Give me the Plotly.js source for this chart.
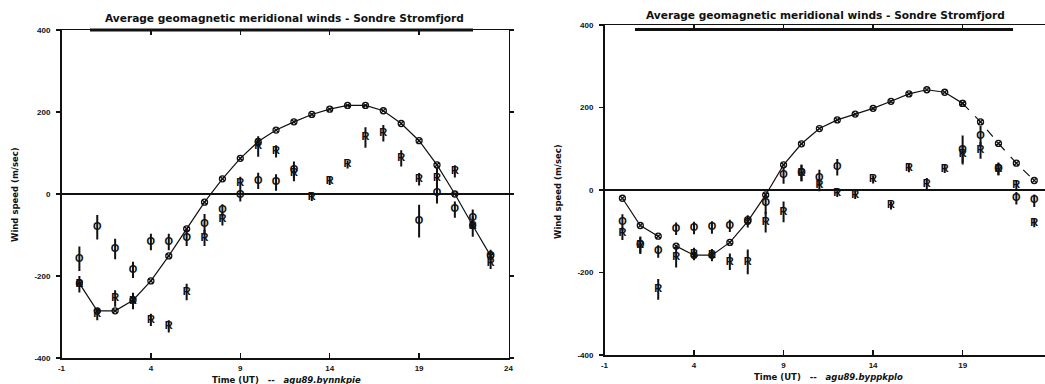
<!DOCTYPE html>
<html>
<head>
<meta charset="utf-8">
<script src="https://cdn.plot.ly/plotly-3.0.1.min.js"></script>
<style>html,body{margin:0;padding:0;overflow:hidden;background:#fff;}#chart{width:1045px;height:384px;}</style>
</head>
<body>
<div id="chart"></div>
<script>
// ---- data ----
var hours = [0,1,2,3,4,5,6,7,8,9,10,11,12,13,14,15,16,17,18,19,20,21,22,23];
var xTickVals = [-1,4,9,14,19,24];
var yTickVals = [-400,-200,0,200,400];

// left panel: agu89.bynnkpie
var leftModel = [-218,-285,-285,-259,-212,-151,-85,-20,37,87,128,156,176,194,207,216,216,203,172,130,71,0,-77,-151];
var leftO     = [-158,-81,-134,-185,-117,-117,-107,-74,-40,-3,32,28,59,null,null,null,null,null,null,-66,2,-38,-58,-151];
var leftOErr  = [30,30,25,20,20,20,20,25,15,15,20,20,20,null,null,null,null,null,null,40,25,20,20,15];
var leftR     = [-220,-293,-255,-261,-307,-323,-239,-107,-62,27,116,104,51,-7,32,72,138,148,87,36,39,55,-79,-168];
var leftRErr  = [20,15,20,20,15,15,20,20,15,15,25,15,20,10,10,10,25,20,20,15,25,15,25,15];

// right panel: agu89.byppkplo
var rightModel = [-20,-86,-112,-136,-158,-158,-127,-76,-12,61,112,149,170,184,198,215,233,243,237,210,165,113,65,23];
var rightO     = [-79,-133,-149,-94,-92,-91,-87,-76,-33,35,41,29,55,null,null,null,null,null,null,97,130,51,-20,-26];
var rightOErr  = [20,20,15,15,15,15,15,15,25,20,20,20,20,null,null,null,null,null,null,35,25,15,15,15];
var rightR     = [-106,-135,-241,-163,-155,-158,-174,-174,-78,-53,41,12,-7,-12,26,-37,53,14,51,86,96,51,12,-80];
var rightRErr  = [15,20,25,25,15,15,20,30,25,25,20,15,10,10,10,10,10,15,10,20,20,15,10,10];

var titleText = 'Average geomagnetic meridional winds - Sondre Stromfjord';
var yTitle = 'Wind speed (m/sec)';
var leftXTitle = 'Time (UT) &nbsp; -- &nbsp; <i>agu89.bynnkpie</i>';
var rightXTitle = 'Time (UT) &nbsp; -- &nbsp; <i>agu89.byppkplo</i>';

// ---- traces ----
var markFont = {family: 'Liberation Sans Narrow, Liberation Sans, sans-serif', size: 11, color: '#111'};
function letterTrace(x, y, err, letter, xa, ya) {
  return {
    x: x, y: y, xaxis: xa, yaxis: ya, mode: 'text', text: y.map(function(){return '<b>' + letter + '</b>';}),
    textposition: 'middle center', textfont: markFont, cliponaxis: false, showlegend: false, hoverinfo: 'x+y',
    error_y: {type: 'data', array: err, visible: true, color: '#111', thickness: 2, width: 0}
  };
}
function modelTrace(x, y, xa, ya, dash) {
  return {
    x: x, y: y, xaxis: xa, yaxis: ya, mode: 'lines+markers', showlegend: false,
    line: {color: '#111', width: 1.2, dash: dash || 'solid'},
    marker: {symbol: 'circle-x-open', size: 6, color: '#111', line: {color: '#111', width: 1.3}}
  };
}

var traces = [
  modelTrace(hours, leftModel, 'x', 'y'),
  letterTrace(hours, leftO, leftOErr, 'O', 'x', 'y'),
  letterTrace(hours, leftR, leftRErr, 'R', 'x', 'y'),
  modelTrace(hours.slice(0,3), rightModel.slice(0,3), 'x2', 'y2'),
  modelTrace(hours.slice(3,20), rightModel.slice(3,20), 'x2', 'y2'),
  modelTrace(hours.slice(19), rightModel.slice(19), 'x2', 'y2', 'dash'),
  letterTrace(hours, rightO, rightOErr, 'O', 'x2', 'y2'),
  letterTrace(hours, rightR, rightRErr, 'R', 'x2', 'y2')
];

var tickFont = {family: 'Liberation Sans, Arial, sans-serif', size: 8, color: '#111', weight: 'bold'};
function xAxis(domain, range, anchor, showRightTickLabels) {
  return {
    domain: domain, range: range, anchor: anchor, tickmode: 'array', tickvals: xTickVals,
    ticktext: xTickVals.map(String), ticks: 'inside', ticklen: 5, tickwidth: 1.3, tickcolor: '#111',
    showline: true, linewidth: 1.5, linecolor: '#111', mirror: 'ticks', showgrid: false, zeroline: false,
    tickfont: tickFont, ticklabelstandoff: 2
  };
}
function yAxis(domain, anchor, mirror) {
  return {
    domain: domain, range: [-400, 400], anchor: anchor, tickmode: 'array', tickvals: yTickVals,
    ticktext: yTickVals.map(String), ticks: 'outside', ticklen: 4, tickwidth: 1.3, tickcolor: '#111',
    showline: true, linewidth: 1.5, linecolor: '#111', mirror: mirror, showgrid: false,
    zeroline: true, zerolinecolor: '#111', zerolinewidth: 1.5, tickfont: tickFont, ticklabelstandoff: 4
  };
}

var titleFont = {family: 'DejaVu Sans, sans-serif', size: 10.6, color: '#111', weight: 'bold'};
var labFont = {family: 'DejaVu Sans, sans-serif', size: 8.5, color: '#111', weight: 'bold'};

var layout = {
  width: 1045, height: 384, margin: {l: 0, r: 0, t: 0, b: 0},
  paper_bgcolor: '#fff', plot_bgcolor: '#fff', showlegend: false,
  xaxis: xAxis([61.5/1045, 508.5/1045], [-1, 24], 'y'),
  yaxis: yAxis([26/384, 354/384], 'x', 'ticks'),
  xaxis2: xAxis([604.5/1045, 1], [-1, 23.6], 'y2'),
  yaxis2: yAxis([29/384, 359/384], 'x2', false),
  annotations: [
    {xref: 'paper', yref: 'paper', x: 284/1045, y: 1 - 18/384, text: titleText, showarrow: false, font: titleFont, xanchor: 'center', yanchor: 'middle'},
    {xref: 'paper', yref: 'paper', x: 825/1045, y: 1 - 15/384, text: titleText, showarrow: false, font: titleFont, xanchor: 'center', yanchor: 'middle'},
    {xref: 'paper', yref: 'paper', x: 286/1045, y: 1 - 380/384, text: leftXTitle, showarrow: false, font: labFont, xanchor: 'center', yanchor: 'middle'},
    {xref: 'paper', yref: 'paper', x: 828/1045, y: 1 - 377/384, text: rightXTitle, showarrow: false, font: labFont, xanchor: 'center', yanchor: 'middle'},
    {xref: 'paper', yref: 'paper', x: 15/1045, y: 1 - 195/384, text: yTitle, showarrow: false, font: labFont, textangle: -90, xanchor: 'center', yanchor: 'middle'},
    {xref: 'paper', yref: 'paper', x: 558/1045, y: 1 - 192/384, text: yTitle, showarrow: false, font: labFont, textangle: -90, xanchor: 'center', yanchor: 'middle'}
  ],
  shapes: [
    {type: 'line', xref: 'paper', yref: 'paper', x0: 90/1045, x1: 473/1045, y0: 1 - 30/384, y1: 1 - 30/384, line: {color: '#111', width: 3}},
    {type: 'line', xref: 'paper', yref: 'paper', x0: 635/1045, x1: 1013/1045, y0: 1 - 29.5/384, y1: 1 - 29.5/384, line: {color: '#111', width: 3}}
  ]
};

Plotly.newPlot('chart', traces, layout, {staticPlot: true, displayModeBar: false});
</script>
</body>
</html>
